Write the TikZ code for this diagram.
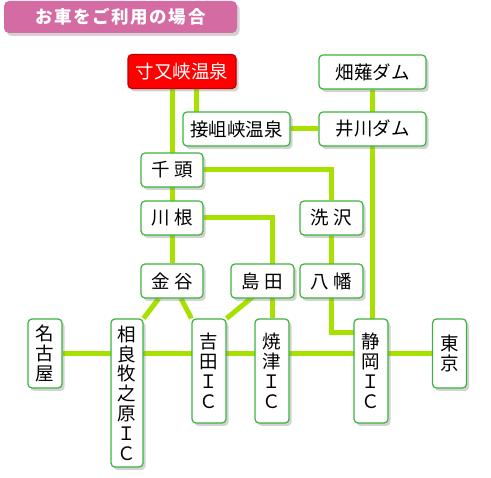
\documentclass[tikz,border=0pt]{standalone}
\usepackage{fontspec}
\usepackage{xcolor}
\usetikzlibrary{shadows,backgrounds}
\newfontfamily\jpfont{Noto Sans CJK JP}
\definecolor{routeGreen}{HTML}{A6E100}
\definecolor{boxGreen}{HTML}{3DB23D}
\definecolor{titlePink}{HTML}{D56BA3}
\definecolor{spaRed}{HTML}{FF0000}

\begin{document}
\begin{tikzpicture}[x=1pt,y=-1pt,
  stop/.style={rounded corners=4pt, fill=white, draw=boxGreen, line width=1.2pt,
    inner sep=0pt, align=center,
    font=\jpfont\fontsize{18.5}{19.8}\selectfont,
    drop shadow={shadow xshift=2.5pt, shadow yshift=-3pt, opacity=0.35}},
  wide/.style={stop, minimum height=34pt},
  tall/.style={stop, minimum width=34pt},
  route/.style={routeGreen, line width=5pt}
]
\useasboundingbox (0,0) rectangle (491,478);

% title
\node[rounded corners=5pt, fill=titlePink, text=white, minimum width=233pt, minimum height=32pt,
  font=\jpfont\bfseries\fontsize{17.5}{20}\selectfont,
  drop shadow={shadow xshift=2.5pt, shadow yshift=-3pt, opacity=0.35}]
  (title) at (120.5,17) {\addfontfeature{LetterSpace=9}お車をご利用の場合};

% upper stations
\node[wide, fill=spaRed, draw=red!75!black, text=white, minimum width=108pt] (sunmata) at (182,71.5) {寸又峡温泉};
\node[wide, minimum width=107pt] (hatanashi) at (372.5,72) {畑薙ダム};
\node[wide, minimum width=107pt] (sesso) at (236.5,129) {接岨峡温泉};
\node[wide, minimum width=107pt] (ikawa) at (372.5,129) {井川ダム};
\node[wide, minimum width=62pt] (senzu) at (172,170) {千 頭};
\node[wide, minimum width=62pt] (kawane) at (172,218) {川 根};
\node[wide, minimum width=63pt] (araizawa) at (331.5,218) {洗 沢};
\node[wide, minimum width=62pt] (kanaya) at (172,281) {金 谷};
\node[wide, minimum width=63pt] (shimada) at (262.5,281) {島 田};
\node[wide, minimum width=63pt] (yawata) at (331.5,281) {八 幡};

% expressway
\node[tall, minimum height=69pt] (nagoya) at (45,353.5) {名\\古\\屋};
\node[tall, minimum width=32pt, minimum height=148pt] (sagara) at (127,393) {相\\良\\牧\\之\\原\\Ｉ\\Ｃ};
\node[tall, minimum height=104pt] (yoshida) at (209,371) {吉\\田\\Ｉ\\Ｃ};
\node[tall, minimum height=104pt] (yaizu) at (272,371) {焼\\津\\Ｉ\\Ｃ};
\node[tall, minimum height=104pt] (shizuoka) at (371,371) {静\\岡\\Ｉ\\Ｃ};
\node[tall, minimum height=69pt] (tokyo) at (449.5,353.5) {東\\京};

\begin{scope}[on background layer]
\draw[route] (senzu |- sunmata) -- (kanaya);
\draw[route] ([xshift=14pt]sunmata.center) -- ([xshift=-40.5pt]sesso.center);
\draw[route] (sesso) -- (ikawa);
\draw[route] (hatanashi) -- (hatanashi |- shizuoka);
\draw[route] (senzu) -| (araizawa);
\draw[route] (kawane) -| (yaizu);
\draw[route] (araizawa) |- ([yshift=-14pt]shizuoka.north);
\draw[route] (nagoya) -- (tokyo);
\draw[route] (kanaya) -- (sagara.north east);
\draw[route] (kanaya) -- (yoshida.north west);
\draw[route] (yaizu |- shimada) -- (yoshida.north east);
\end{scope}
\end{tikzpicture}
\end{document}
